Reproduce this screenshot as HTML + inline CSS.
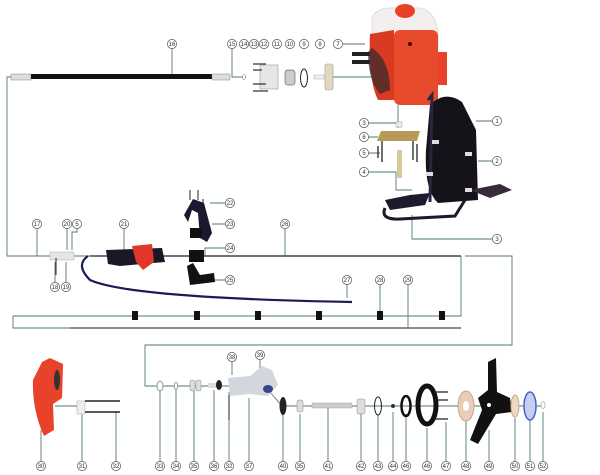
<!DOCTYPE html>
<html><head><meta charset="utf-8"><style>
html,body{margin:0;padding:0;background:#fff}
svg{display:block}
text{font-family:"Liberation Sans",sans-serif;font-size:6px;fill:#333;text-anchor:middle}
</style></head><body>
<svg width="600" height="475" viewBox="0 0 600 475" xmlns="http://www.w3.org/2000/svg">
<defs>
<g id="lb"><circle r="4.6" fill="#fff" stroke="#555" stroke-width="0.7"/></g>
</defs>
<g fill="none" stroke="#4f7a72" stroke-width="0.9">
<path d="M11 77 H7 V256 H90"/>
<path d="M172 48 V74"/>
<path d="M232 48 V77 H246"/>
<path d="M343 44 H365"/>
<path d="M328 77 H372"/>
<path d="M368 123 H398 M368 137 H378 M368 153 H380 M368 172 H396 V190 H412"/>
<path d="M492 121 H476 M492 161 H478 M492 239 H412 V215"/>
<path d="M398 105 V128"/>
<path d="M37 228 V256 M67 228 V250 M77 228 V232 H72 V250 M124 228 V250 M226 203 H210 M226 224 H212 M226 248 H205 V256 M226 280 H214 M285 228 V256"/>
<path d="M55 283 V262 M66 283 V262 M347 276 V298 M380 276 V316 M408 276 V328"/>
<path d="M461 256 V316 H13 V328 H461"/>
<path d="M465 256 H512 V345 H145 V386 H158"/>
<path d="M41 462 V430 M55 406 H80 M82 462 V412 M116 462 V412 M160 462 V390 M176 462 V390 M194 462 V390 M214 462 V390 M229 462 V392 M249 462 V398"/>
<path d="M150 386 H240 M270 392 L282 406 H420 M283 462 V415 M300 462 V414 M328 462 V408 M361 462 V414 M378 462 V415 M393 462 V412 M406 462 V414 M427 462 V428 M446 462 V422 M466 462 V420 M489 462 V430 M515 462 V418 M530 462 V420 M543 462 V412 M420 406 H545"/>
<path d="M232 361 V375 M260 359 V372"/>
</g>
<line x1="90" y1="256" x2="461" y2="256" stroke="#445" stroke-width="1.5"/>
<line x1="70" y1="328" x2="461" y2="328" stroke="#667" stroke-width="1.4"/>
<line x1="13" y1="316" x2="461" y2="316" stroke="#4f7a72" stroke-width="1"/>
<g fill="#111">
<rect x="132" y="311" width="6" height="9"/><rect x="194" y="311" width="6" height="9"/><rect x="255" y="311" width="6" height="9"/><rect x="316" y="311" width="6" height="9"/><rect x="377" y="311" width="6" height="9"/><rect x="439" y="311" width="6" height="9"/>
</g>
<rect x="11" y="74" width="20" height="6" fill="#ddd" stroke="#888" stroke-width="0.5"/>
<rect x="31" y="74" width="181" height="5" fill="#111"/>
<rect x="212" y="74" width="18" height="6" fill="#ddd" stroke="#888" stroke-width="0.5"/>
<ellipse cx="244" cy="77" rx="1.5" ry="2.5" fill="#fff" stroke="#777" stroke-width="0.6"/>
<rect x="260" y="65" width="18" height="24" fill="#e6e6e6" stroke="#999" stroke-width="0.6"/>
<g stroke="#333" stroke-width="1.2"><path d="M253 64 H266 M253 70 H262 M253 84 H266 M253 91 H268"/></g>
<rect x="285" y="70" width="10" height="15" rx="3" fill="#ccc" stroke="#666" stroke-width="0.7"/>
<ellipse cx="304" cy="78" rx="3.5" ry="9" fill="none" stroke="#222" stroke-width="1"/>
<rect x="314" y="75" width="10" height="4" fill="#eee" stroke="#aaa" stroke-width="0.5"/>
<rect x="325" y="64" width="8" height="26" rx="2" fill="#e3d8c4" stroke="#999" stroke-width="0.6"/>
<path d="M372 18 Q376 7 395 8 L420 8 Q438 12 438 38 L438 50 L372 50 Z" fill="#f2efee" stroke="#ddd"/>
<ellipse cx="405" cy="11" rx="10" ry="7" fill="#e8432a"/>
<path d="M370 34 L394 30 L396 100 L378 100 Q368 80 370 34Z" fill="#d83a22"/>
<rect x="394" y="30" width="44" height="75" rx="6" fill="#e84a2c"/>
<rect x="438" y="52" width="9" height="33" fill="#e8432a"/>
<path d="M372 48 Q390 60 390 90 L380 94 Q368 80 368 52Z" fill="#3a2b2e" opacity="0.75"/>
<rect x="352" y="52" width="18" height="4" fill="#222"/><rect x="352" y="60" width="18" height="4" fill="#222"/>
<circle cx="410" cy="44" r="2" fill="#400"/>
<rect x="396" y="122" width="6" height="5" fill="#eee" stroke="#999" stroke-width="0.5"/>
<path d="M381 131 H420 L417 141 H377Z" fill="#b59b56"/>
<g stroke="#222" stroke-width="1.3"><path d="M382 141 V162 M378 146 V158 M413 141 V160 M417 144 V162"/></g>
<rect x="397" y="150" width="5" height="28" fill="#d9c89a"/>
<path d="M430 105 Q445 90 462 102 L476 130 L478 200 L438 203 Q424 190 426 150Z" fill="#151219"/>
<path d="M428 100 L432 95 L430 202" fill="none" stroke="#2a2540" stroke-width="3"/>
<path d="M470 190 L500 184 L512 190 L490 198Z" fill="#3a2a38"/>
<g fill="#ddd"><rect x="432" y="140" width="7" height="4"/><rect x="465" y="152" width="7" height="4"/><rect x="426" y="172" width="7" height="4"/><rect x="465" y="188" width="7" height="4"/></g>
<path d="M385 208 Q380 220 400 219 L455 216 L465 200" fill="none" stroke="#1c1a2e" stroke-width="3"/>
<path d="M385 200 L410 195 L430 193 L425 205 L390 210Z" fill="#1c1a2e"/>
<g stroke="#222" stroke-width="1"><path d="M190 190 V200 M198 190 V200 M203 199 V205"/></g>
<path d="M184 215 L193 199 L204 203 L212 233 L207 242 L200 238 L198 213 L192 210 L188 222Z" fill="#1b1830"/>
<rect x="190" y="228" width="12" height="10" fill="#111"/>
<rect x="189" y="250" width="15" height="12" fill="#111"/>
<path d="M187 266 L193 263 L200 275 L214 273 L215 282 L190 285Z" fill="#111"/>
<path d="M88 256 Q75 265 90 280 Q130 298 352 302" fill="none" stroke="#1b1b55" stroke-width="2.2"/>
<path d="M106 250 L162 248 L165 262 L142 264 L120 266 L108 264Z" fill="#1a1826"/>
<path d="M132 246 L152 244 L154 262 L143 270 L136 262Z" fill="#e2362a"/>
<rect x="50" y="252" width="24" height="8" fill="#e7e4e4" stroke="#aaa" stroke-width="0.5"/>
<line x1="56" y1="258" x2="56" y2="275" stroke="#222"/>
<path d="M42 362 L50 358 L63 364 L62 398 L53 404 L54 430 L44 436 Q32 410 33 380Z" fill="#e8432a"/>
<ellipse cx="57" cy="380" rx="3" ry="10" fill="#333"/>
<rect x="77" y="401" width="8" height="13" fill="#eee" stroke="#aaa" stroke-width="0.5"/>
<g stroke="#222" stroke-width="1.5"><path d="M85 401 H120 M85 412 H120"/></g>
<ellipse cx="160" cy="386" rx="3" ry="5" fill="#fff" stroke="#777" stroke-width="0.7"/>
<ellipse cx="176" cy="386" rx="1.5" ry="4" fill="#fff" stroke="#777" stroke-width="0.6"/>
<rect x="190" y="380" width="5" height="11" rx="2" fill="#ddd" stroke="#888" stroke-width="0.5"/>
<rect x="196" y="380" width="5" height="11" rx="2" fill="#ddd" stroke="#888" stroke-width="0.5"/>
<rect x="208" y="383" width="10" height="5" fill="#ddd"/>
<ellipse cx="219" cy="385" rx="3" ry="5" fill="#222"/>
<path d="M228 378 L250 376 L262 366 L272 370 L278 385 L268 396 L250 394 L230 396Z" fill="#d3d6dc"/>
<ellipse cx="268" cy="389" rx="5" ry="4" fill="#39458a"/>
<line x1="229" y1="395" x2="229" y2="420" stroke="#222"/>
<ellipse cx="283" cy="406" rx="3.5" ry="9" fill="#222"/>
<rect x="297" y="400" width="6" height="12" rx="2" fill="#ddd" stroke="#888" stroke-width="0.5"/>
<rect x="312" y="403" width="40" height="5" fill="#ccc" stroke="#999" stroke-width="0.4"/>
<rect x="357" y="399" width="8" height="15" rx="2" fill="#ddd" stroke="#888" stroke-width="0.5"/>
<ellipse cx="378" cy="406" rx="3.5" ry="9" fill="none" stroke="#222" stroke-width="1"/>
<circle cx="393" cy="406" r="2" fill="#334"/>
<ellipse cx="406" cy="406" rx="4.5" ry="10" fill="none" stroke="#111" stroke-width="2.5"/>
<ellipse cx="427" cy="405" rx="9" ry="19" fill="none" stroke="#111" stroke-width="5"/>
<g stroke="#222" stroke-width="1.3"><path d="M434 392 H448 M434 400 H448 M434 419 H448"/></g>
<ellipse cx="466" cy="406" rx="8" ry="15" fill="#e9cdb8" stroke="#c9a58d"/>
<ellipse cx="466" cy="406" rx="3" ry="5" fill="#fff"/>
<path d="M488 362 L496 358 L497 392 L510 398 L512 412 L496 414 L478 444 L470 440 L482 410 L478 398 L488 390Z" fill="#111"/>
<circle cx="489" cy="405" r="2" fill="#fff"/>
<ellipse cx="515" cy="406" rx="4" ry="11" fill="#ecd8c2" stroke="#c8a88a"/>
<ellipse cx="530" cy="406" rx="6" ry="14" fill="#c7cff0" stroke="#4a63c8" stroke-width="1.5"/>
<ellipse cx="543" cy="405" rx="2" ry="3.5" fill="#fff" stroke="#999" stroke-width="0.6"/>
<g>
<use href="#lb" x="172" y="44"/><text x="172" y="46.2">16</text>
<use href="#lb" x="232" y="44"/><text x="232" y="46.2">15</text>
<use href="#lb" x="244" y="44"/><text x="244" y="46.2">14</text>
<use href="#lb" x="254" y="44"/><text x="254" y="46.2">13</text>
<use href="#lb" x="264" y="44"/><text x="264" y="46.2">12</text>
<use href="#lb" x="277" y="44"/><text x="277" y="46.2">11</text>
<use href="#lb" x="290" y="44"/><text x="290" y="46.2">10</text>
<use href="#lb" x="304" y="44"/><text x="304" y="46.2">9</text>
<use href="#lb" x="320" y="44"/><text x="320" y="46.2">8</text>
<use href="#lb" x="338" y="44"/><text x="338" y="46.2">7</text>
<use href="#lb" x="364" y="123"/><text x="364" y="125.2">3</text>
<use href="#lb" x="364" y="137"/><text x="364" y="139.2">6</text>
<use href="#lb" x="364" y="153"/><text x="364" y="155.2">5</text>
<use href="#lb" x="364" y="172"/><text x="364" y="174.2">4</text>
<use href="#lb" x="497" y="121"/><text x="497" y="123.2">1</text>
<use href="#lb" x="497" y="161"/><text x="497" y="163.2">2</text>
<use href="#lb" x="497" y="239"/><text x="497" y="241.2">3</text>
<use href="#lb" x="230" y="203"/><text x="230" y="205.2">22</text>
<use href="#lb" x="230" y="224"/><text x="230" y="226.2">23</text>
<use href="#lb" x="230" y="248"/><text x="230" y="250.2">24</text>
<use href="#lb" x="230" y="280"/><text x="230" y="282.2">25</text>
<use href="#lb" x="285" y="224"/><text x="285" y="226.2">26</text>
<use href="#lb" x="37" y="224"/><text x="37" y="226.2">17</text>
<use href="#lb" x="67" y="224"/><text x="67" y="226.2">20</text>
<use href="#lb" x="77" y="224"/><text x="77" y="226.2">5</text>
<use href="#lb" x="124" y="224"/><text x="124" y="226.2">21</text>
<use href="#lb" x="55" y="287"/><text x="55" y="289.2">18</text>
<use href="#lb" x="66" y="287"/><text x="66" y="289.2">19</text>
<use href="#lb" x="347" y="280"/><text x="347" y="282.2">27</text>
<use href="#lb" x="380" y="280"/><text x="380" y="282.2">28</text>
<use href="#lb" x="408" y="280"/><text x="408" y="282.2">29</text>
<use href="#lb" x="232" y="357"/><text x="232" y="359.2">38</text>
<use href="#lb" x="260" y="355"/><text x="260" y="357.2">39</text>
<use href="#lb" x="41" y="466"/><text x="41" y="468.2">30</text>
<use href="#lb" x="82" y="466"/><text x="82" y="468.2">31</text>
<use href="#lb" x="116" y="466"/><text x="116" y="468.2">32</text>
<use href="#lb" x="160" y="466"/><text x="160" y="468.2">33</text>
<use href="#lb" x="176" y="466"/><text x="176" y="468.2">34</text>
<use href="#lb" x="194" y="466"/><text x="194" y="468.2">35</text>
<use href="#lb" x="214" y="466"/><text x="214" y="468.2">36</text>
<use href="#lb" x="229" y="466"/><text x="229" y="468.2">32</text>
<use href="#lb" x="249" y="466"/><text x="249" y="468.2">37</text>
<use href="#lb" x="283" y="466"/><text x="283" y="468.2">40</text>
<use href="#lb" x="300" y="466"/><text x="300" y="468.2">35</text>
<use href="#lb" x="328" y="466"/><text x="328" y="468.2">41</text>
<use href="#lb" x="361" y="466"/><text x="361" y="468.2">42</text>
<use href="#lb" x="378" y="466"/><text x="378" y="468.2">43</text>
<use href="#lb" x="393" y="466"/><text x="393" y="468.2">44</text>
<use href="#lb" x="406" y="466"/><text x="406" y="468.2">46</text>
<use href="#lb" x="427" y="466"/><text x="427" y="468.2">46</text>
<use href="#lb" x="446" y="466"/><text x="446" y="468.2">47</text>
<use href="#lb" x="466" y="466"/><text x="466" y="468.2">48</text>
<use href="#lb" x="489" y="466"/><text x="489" y="468.2">49</text>
<use href="#lb" x="515" y="466"/><text x="515" y="468.2">50</text>
<use href="#lb" x="530" y="466"/><text x="530" y="468.2">51</text>
<use href="#lb" x="543" y="466"/><text x="543" y="468.2">52</text>
</g>
</svg>
</body></html>
